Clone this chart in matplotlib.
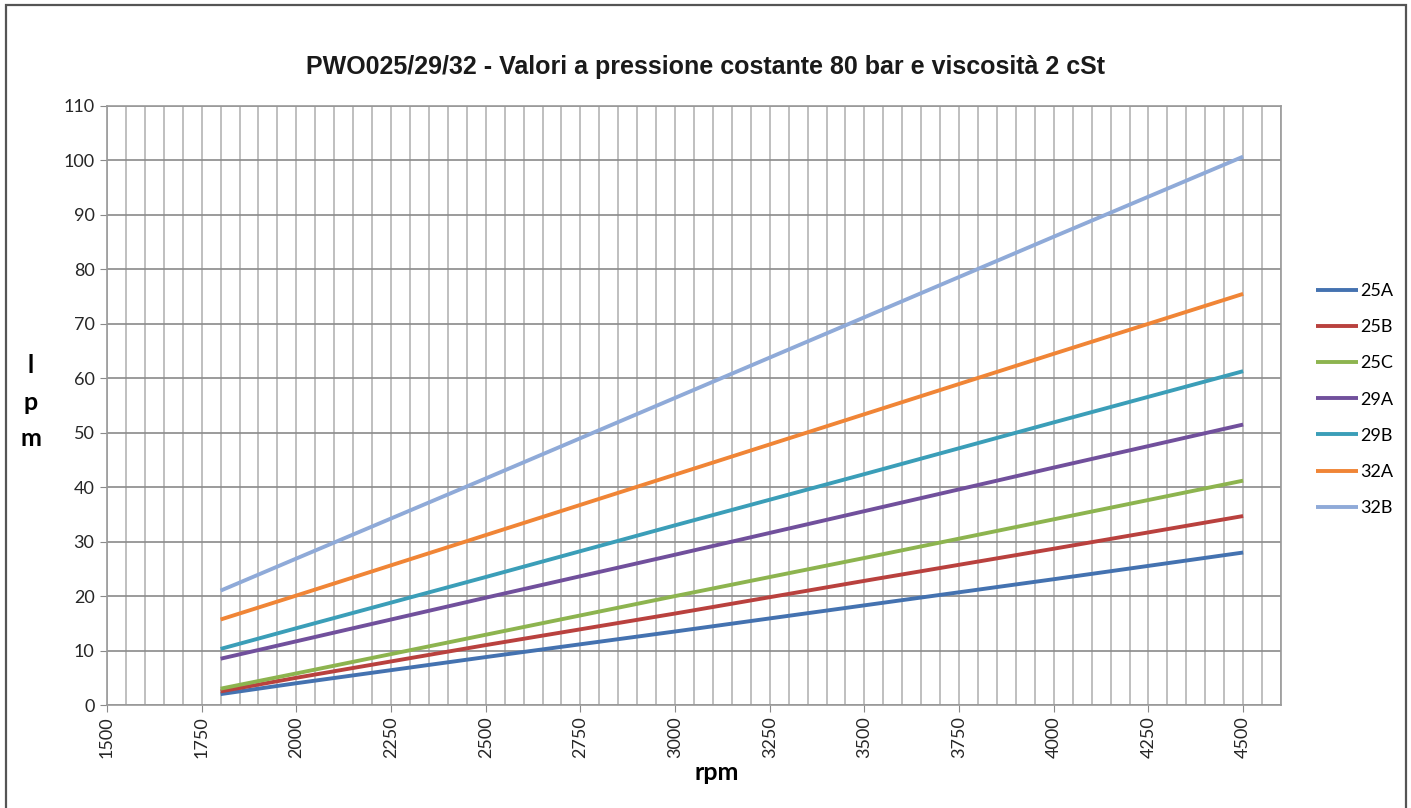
import matplotlib
matplotlib.use("Agg")
import matplotlib.pyplot as plt
from matplotlib.patches import Rectangle
from matplotlib.ticker import MultipleLocator

## data (l/min vs rpm)
rpm = [1800, 2000, 2500, 3000, 3500, 4000, 4500]
q_25a = [2.0, 4.0, 8.8, 13.5, 18.3, 23.1, 28.0]
q_25b = [2.5, 5.0, 11.0, 16.8, 22.8, 28.7, 34.7]
q_25c = [3.0, 5.8, 12.9, 20.0, 27.0, 34.1, 41.2]
q_29a = [8.5, 11.7, 19.7, 27.6, 35.6, 43.6, 51.5]
q_29b = [10.3, 14.1, 23.5, 33.0, 42.4, 51.9, 61.3]
q_32a = [15.7, 20.1, 31.2, 42.3, 53.4, 64.5, 75.5]
q_32b = [21.0, 26.9, 41.6, 56.4, 71.2, 86.0, 100.7]

names = ["25A", "25B", "25C", "29A", "29B", "32A", "32B"]
series = [q_25a, q_25b, q_25c, q_29a, q_29b, q_32a, q_32b]
colors = ["#4472B0", "#B9413E", "#8DB44F", "#71509C", "#3B9EB8", "#F08536", "#8FAAD8"]

plt.rcParams["font.family"] = ["Lato", "DejaVu Sans"]

fig = plt.figure(figsize=(14.11, 8.08), dpi=100)
ax = fig.add_axes([107 / 1411, 1 - 705 / 808, (1281 - 107) / 1411, (705 - 106) / 808])

for name, vals, c in zip(names, series, colors):
    ax.plot(rpm, vals, color=c, lw=2.8, label=name, solid_capstyle="butt")

ax.set_xlim(1500, 4600)
ax.set_ylim(0, 110)
ax.set_xticks(range(1500, 4501, 250))
ax.xaxis.set_minor_locator(MultipleLocator(50))
ax.yaxis.set_major_locator(MultipleLocator(10))
ax.grid(which="major", axis="y", color="#8a8a8a", lw=1.2)
ax.grid(which="both", axis="x", color="#b4b4b4", lw=1.2)
ax.set_axisbelow(True)
for s in ax.spines.values():
    s.set_color("#9a9a9a")
    s.set_linewidth(1.2)
ax.tick_params(axis="x", which="major", rotation=90, labelsize=13, length=5, color="#8a8a8a", pad=3)
ax.tick_params(axis="x", which="minor", length=0)
ax.tick_params(axis="y", labelsize=13, length=5, color="#8a8a8a", pad=4)
for lab in ax.get_xticklabels() + ax.get_yticklabels():
    lab.set_color("#262626")

fig.text(0.5, 1 - 67 / 808, "PWO025/29/32 - Valori a pressione costante 80 bar e viscosità 2 cSt",
         ha="center", va="center", fontsize=18, fontweight="bold",
         family=["Liberation Sans Narrow", "Liberation Sans"], color="#1a1a1a")
fig.text(717 / 1411, 1 - 772 / 808, "rpm", ha="center", va="center", fontsize=18, fontweight="bold")
fig.text(31 / 1411, 1 - 402 / 808, "l\np\nm", ha="center", va="center", fontsize=18,
         fontweight="bold", linespacing=1.7)

leg = ax.legend(loc="center left", bbox_to_anchor=(1.024, 0.51), frameon=False, fontsize=13,
                handlelength=2.3, handletextpad=0.1, labelspacing=1.12, borderaxespad=0)

# outer frame
fig.patches.append(Rectangle((6 / 1411, -0.05), 1400 / 1411, 1.05 - 5 / 808, transform=fig.transFigure,
                             fill=False, edgecolor="#555555", lw=1.6))

fig.savefig("out.png", dpi=100)
